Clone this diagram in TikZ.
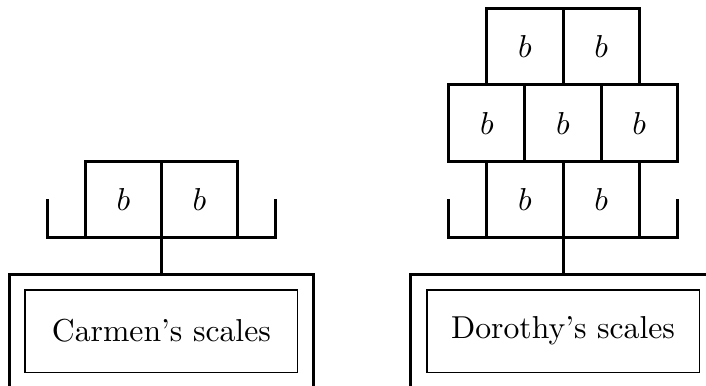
\documentclass[tikz,border=0pt]{standalone}
\usepackage{tikz}
\usetikzlibrary{positioning,calc}

\begin{document}
\begin{tikzpicture}[
    node distance=0pt,
    weight/.style={rectangle, draw, line width=0.95pt, minimum size=24pt, inner sep=0pt, outer sep=0pt},
    namebox/.style={rectangle, draw, line width=0.5pt, minimum width=86pt, minimum height=26pt, inner sep=0pt},
    frame/.style={line width=0.95pt}
]
    \useasboundingbox (0,0) rectangle (222.7pt,121.5pt);

    % Carmen's scales
    \coordinate (cpan) at (50.9pt,46.7pt);
    \coordinate (ctop) at (50.9pt,35pt);
    \node[weight, above left=0pt of cpan] (c1) {$b$};
    \node[weight, above right=0pt of cpan] (c2) {$b$};
    \draw[frame] ($(cpan)+(-36pt,12pt)$) -- ++(0,-12pt) -- ++(72pt,0) -- ++(0,12pt);
    \draw[frame] (cpan) -- (ctop);
    \draw[frame] ($(ctop)+(-48pt,-40pt)$) |- ($(ctop)+(48pt,0)$) -- ++(0,-40pt);
    \node[namebox, below=4.7pt of ctop] (cname) {Carmen's scales};

    % Dorothy's scales
    \coordinate (dpan) at (177.6pt,46.7pt);
    \coordinate (dtop) at (177.6pt,35pt);
    \node[weight, above left=0pt of dpan] (d1) {$b$};
    \node[weight, above right=0pt of dpan] (d2) {$b$};
    \node[weight, above=0pt of d1.north east] (d4) {$b$};
    \node[weight, left=0pt of d4] (d3) {$b$};
    \node[weight, right=0pt of d4] (d5) {$b$};
    \node[weight, above left=0pt of d4.north] (d6) {$b$};
    \node[weight, above right=0pt of d4.north] (d7) {$b$};
    \draw[frame] ($(dpan)+(-36pt,12pt)$) -- ++(0,-12pt) -- ++(72pt,0) -- ++(0,12pt);
    \draw[frame] (dpan) -- (dtop);
    \draw[frame] ($(dtop)+(-48pt,-40pt)$) |- ($(dtop)+(48pt,0)$) -- ++(0,-40pt);
    \node[namebox, below=4.7pt of dtop] (dname) {Dorothy's scales};
\end{tikzpicture}
\end{document}
